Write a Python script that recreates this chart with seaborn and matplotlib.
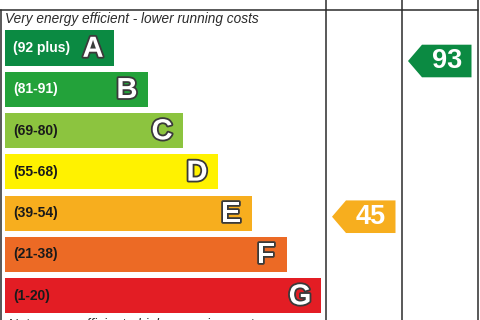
import matplotlib
matplotlib.use("Agg")
import matplotlib.pyplot as plt
import matplotlib.patheffects as pe
import seaborn as sns
import pandas as pd

# EPC bands, top (most efficient) to bottom
bands = ["A", "B", "C", "D", "E", "F", "G"]
ranges = ["(92 plus)", "(81-91)", "(69-80)", "(55-68)", "(39-54)", "(21-38)", "(1-20)"]
bar_len = [109, 143, 178, 213, 247, 282, 316]
band_colors = ["#0b8a42", "#23a23a", "#8cc43f", "#fff200", "#f7ae1e", "#ec6a25", "#e31d24"]
range_text_colors = ["white", "white", "#1a1a1a", "#1a1a1a", "#1a1a1a", "#1a1a1a", "#1a1a1a"]

current_score = 45
potential_score = 93
columns = ["Current", "Potential"]


def score_to_y(score):
    # vertical placement of a rating arrow (pixel rows)
    return 61 + (93 - score) * 3.244


def score_color(score):
    limits = [92, 81, 69, 55, 39, 21, 1]
    for lim, col in zip(limits, band_colors):
        if score >= lim:
            return col
    return band_colors[-1]


df = pd.DataFrame({"band": bands, "length": bar_len})

sns.set_style("white")
fig = plt.figure(figsize=(4.8, 3.2), dpi=100)
ax = fig.add_axes([0, 0, 1, 1])
sns.barplot(data=df, x="length", y="band", hue="band", palette=band_colors,
            orient="h", legend=False, width=0.85, saturation=1, linewidth=0, ax=ax)
ax.set_xlim(-5, 475)
ax.set_ylim(6.589, -1.163)
ax.axis("off")

for i, (band, rng, length) in enumerate(zip(bands, ranges, bar_len)):
    ax.text(8, i, rng, ha="left", va="center", fontsize=10, fontweight="bold",
            color=range_text_colors[i], family="Liberation Sans")
    ax.text(length - 21, i + 0.02, band, ha="center", va="center", fontsize=21,
            fontweight="bold", color="white", family="Liberation Sans",
            path_effects=[pe.Stroke(linewidth=2.6, foreground="#3a3a3a"), pe.Normal()])

# overlay in pixel coordinates for frame, headers and arrows
ov = fig.add_axes([0, 0, 1, 1], facecolor="none")
ov.set_xlim(0, 480)
ov.set_ylim(320, 0)
ov.axis("off")

line_kw = dict(color="#2b2b2b", linewidth=1.1)
ov.plot([0, 478], [9.5, 9.5], **line_kw)
ov.plot([0.8, 0.8], [9.5, 320], **line_kw)
for x in [326, 402, 478]:
    ov.plot([x, x], [0, 320], **line_kw)

ov.text(5, 19, "Very energy efficient - lower running costs", ha="left", va="center",
        fontsize=9.8, style="italic", color="#2a2a2a", family="Liberation Sans")
ov.text(8, 318, "Not energy efficient - higher running costs", ha="left", va="top",
        fontsize=9.8, style="italic", color="#2a2a2a", family="Liberation Sans")
for label, cx in zip(columns, [364, 440]):
    ov.text(cx, 0.5, label, ha="center", va="baseline", fontsize=9.5,
            color="#444444", family="Liberation Sans")

col_edges = [(326, 402), (402, 478)]
for score, (left, right) in zip([current_score, potential_score], col_edges):
    yc = score_to_y(score)
    h = 16.3
    rl = left + 20
    rr = right - 6.5
    tip = rl - 14
    ov.fill([tip, rl, rr, rr, rl], [yc, yc - h, yc - h, yc + h, yc + h],
            color=score_color(score), linewidth=0)
    ov.text((rl + rr) / 2, yc + 0.5, str(score), ha="center", va="center", fontsize=19.5,
            fontweight="bold", color="white", family="Liberation Sans")

fig.savefig("out.png", dpi=100)
